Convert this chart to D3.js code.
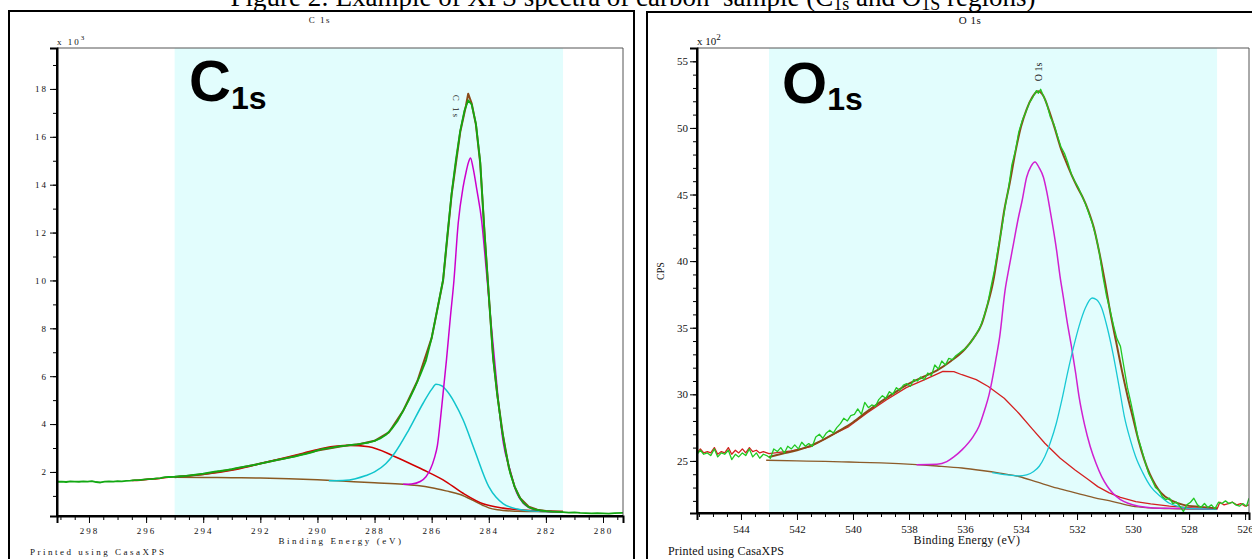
<!DOCTYPE html>
<html>
<head>
<meta charset="utf-8">
<script src="https://cdn.jsdelivr.net/npm/d3@7"></script>
<style>
  html, body { margin: 0; padding: 0; background: #fff; overflow: hidden; }
  svg { display: block; }
</style>
</head>
<body>
<svg id="fig" width="1252" height="559"></svg>
<script>
// ---------- C 1s region (counts in units of 10^3 CPS) ----------
const c1sXTicks = [298, 296, 294, 292, 290, 288, 286, 284, 282, 280];
const c1sYTicks = [2, 4, 6, 8, 10, 12, 14, 16, 18];
const c1sRegion = [295.0, 281.4];

const c1sCounts = [
  [299.1,1.59],[298.95,1.60],[298.8,1.58],[298.65,1.61],[298.5,1.60],[298.35,1.59],[298.2,1.61],
  [298.05,1.60],[297.9,1.62],[297.75,1.58],[297.6,1.56],[297.45,1.60],[297.3,1.61],[297.15,1.60],
  [297.0,1.62],[296.85,1.61],[296.7,1.63],[296.55,1.64],[296.4,1.66],[296.25,1.66],[296.1,1.68],
  [295.95,1.70],[295.8,1.70],[295.65,1.73],[295.5,1.74],[295.35,1.78],[295.2,1.79],[295.0,1.80],
  [294.8,1.82],[294.6,1.84],[294.4,1.87],[294.2,1.90],[294.0,1.93],[293.8,1.97],[293.6,2.01],
  [293.4,2.04],[293.2,2.08],[293.0,2.12],[292.8,2.17],[292.6,2.21],[292.4,2.25],[292.2,2.30],
  [292.0,2.35],[291.8,2.40],[291.6,2.45],[291.4,2.50],[291.2,2.55],[291.0,2.60],[290.8,2.64],
  [290.6,2.70],[290.4,2.76],[290.2,2.82],[290.0,2.90],[289.8,2.96],[289.6,3.00],[289.4,3.04],
  [289.2,3.08],[289.0,3.10],[288.8,3.13],[288.6,3.15],[288.4,3.19],[288.2,3.23],[288.0,3.30],
  [287.8,3.40],[287.6,3.55],[287.4,3.80],[287.2,4.12],[287.0,4.55],[286.8,5.00],[286.6,5.50],
  [286.4,6.05],[286.2,6.65],[286.0,7.60],[285.8,8.80],[285.6,10.03],[285.45,11.90],[285.3,13.65],
  [285.15,15.05],[285.0,16.25],[284.85,17.10],[284.72,17.52],[284.6,17.35],[284.45,16.55],
  [284.3,14.95],[284.15,12.00],[284.0,9.40],[283.85,6.80],[283.7,5.20],[283.55,3.85],[283.4,2.80],
  [283.25,1.95],[283.1,1.40],[282.95,1.00],[282.8,0.72],[282.6,0.52],[282.4,0.44],[282.2,0.39],
  [282.0,0.36],[281.8,0.34],[281.6,0.33],[281.4,0.32],[281.2,0.30],[281.0,0.31],[280.8,0.29],
  [280.6,0.28],[280.4,0.27],[280.2,0.28],[280.0,0.27],[279.8,0.26],[279.6,0.28],[279.3,0.29]
];
const c1sEnvelope = [
  [295.0,1.78],[294,1.90],[293,2.10],[292,2.35],[291,2.60],[290,2.90],[289,3.10],[288.5,3.17],
  [288,3.30],[287.5,3.65],[287,4.55],[286.5,5.80],[286,7.60],[285.6,10.0],[285.3,13.6],[285,16.2],
  [284.8,17.3],[284.72,17.8],[284.6,17.4],[284.45,16.5],[284.3,14.9],[284.15,12.0],[284,9.4],
  [283.85,6.8],[283.7,5.2],[283.5,3.5],[283.3,2.2],[283.1,1.4],[282.9,0.9],[282.6,0.55],
  [282.3,0.42],[282,0.37],[281.4,0.34]
];
const c1sBackground = [
  [295.0,1.78],[294,1.77],[293,1.76],[292,1.75],[291,1.72],[290,1.67],[289,1.61],[288,1.55],
  [287,1.49],[286.5,1.43],[286,1.34],[285.5,1.21],[285,1.06],[284.5,0.78],[284.2,0.60],[284,0.50],
  [283.7,0.42],[283.5,0.39],[283,0.36],[282.5,0.35],[282,0.34],[281.4,0.34]
];
const c1sPeakBroad = [
  [296.5,1.64],[296.2,1.66],[295.9,1.70],[295.6,1.72],[295.3,1.77],[295.0,1.80],[294.1,1.88],
  [292.9,2.09],[291.7,2.44],[290.5,2.78],[289.8,2.99],[288.9,3.11],[288.2,3.05],[287.3,2.65],
  [286.3,2.09],[285.6,1.67],[284.9,1.11],[284.2,0.67],[283.5,0.49],[282.8,0.41],[282.0,0.36],
  [281.4,0.35]
];
const c1sPeakMid = [
  [289.6,1.63],[289.0,1.65],[288.7,1.71],[288.3,1.85],[288.0,2.00],[287.6,2.35],[287.3,2.78],
  [286.8,3.76],[286.3,4.87],[286.0,5.45],[285.85,5.66],[285.65,5.60],[285.5,5.43],[285.2,4.90],
  [284.9,4.18],[284.5,2.92],[284.0,1.39],[283.75,0.95],[283.5,0.68],[283.0,0.45],[282.6,0.38],
  [282.0,0.35],[281.4,0.34]
];
const c1sPeakMain = [
  [287.0,1.49],[286.7,1.50],[286.4,1.60],[286.2,1.80],[286.05,2.10],[285.9,2.60],[285.8,3.10],
  [285.65,4.70],[285.48,6.70],[285.35,8.40],[285.22,10.0],[285.07,12.4],[284.9,13.9],[284.8,14.5],
  [284.72,14.9],[284.64,15.12],[284.55,14.7],[284.42,13.8],[284.25,12.5],[284.1,10.6],[283.95,8.6],
  [283.8,6.7],[283.65,4.8],[283.49,3.2],[283.26,2.1],[283.02,1.12],[282.8,0.70],[282.6,0.52],
  [282.3,0.40],[282.0,0.36],[281.4,0.34]
];

// ---------- O 1s region (counts in units of 10^2 CPS) ----------
const o1sXTicks = [544, 542, 540, 538, 536, 534, 532, 530, 528, 526];
const o1sYTicks = [25, 30, 35, 40, 45, 50, 55];
const o1sRegion = [543.0, 527.0];

const o1sCounts = [
  [545.57,25.5],[545.45,25.8],[545.33,25.5],[545.2,25.6],[545.08,25.4],[544.95,25.9],[544.83,25.3],
  [544.7,25.6],[544.58,25.5],[544.45,25.8],[544.33,25.1],[544.2,25.5],[544.08,25.3],[543.95,25.6],
  [543.83,25.4],[543.7,25.9],[543.58,25.3],[543.45,25.6],[543.33,25.2],[543.2,25.5],[543.08,25.4],
  [542.95,25.2],[542.83,25.9],[542.7,25.7],[542.58,26.0],[542.45,25.6],[542.33,26.1],[542.2,25.9],
  [542.08,26.2],[541.95,25.9],[541.83,26.4],[541.7,26.1],[541.58,26.3],[541.45,26.1],[541.33,26.8],
  [541.2,27.0],[541.08,26.7],[540.95,27.1],[540.83,27.3],[540.7,27.1],[540.58,27.5],[540.45,27.8],
  [540.33,28.2],[540.2,28.0],[540.08,28.4],[539.95,28.5],[539.83,28.9],[539.7,28.5],[539.58,29.4],
  [539.45,29.0],[539.33,29.2],[539.2,29.1],[539.08,29.6],[538.95,29.9],[538.83,29.7],[538.7,30.2],
  [538.58,30.0],[538.45,30.5],[538.33,30.3],[538.2,30.7],[538.08,30.8],[537.95,30.6],[537.83,31.1],
  [537.7,31.0],[537.58,31.3],[537.45,31.1],[537.33,31.6],[537.2,31.4],[537.08,32.2],[536.95,31.9],
  [536.83,32.5],[536.7,32.2],[536.58,32.7],[536.45,32.6],[536.33,32.9],[536.2,33.1],[536.08,33.3],
  [535.95,33.5],[535.83,33.8],[535.7,34.2],[535.58,34.6],[535.45,35.1],[535.33,35.8],[535.2,36.7],
  [535.08,38.0],[534.95,39.3],[534.83,40.8],[534.7,42.3],[534.57,44.1],[534.45,45.4],[534.33,47.2],
  [534.2,48.3],[534.08,49.7],[533.95,50.6],[533.83,51.2],[533.7,51.9],[533.58,52.3],[533.45,52.8],
  [533.38,52.6],[533.3,52.9],[533.2,52.4],[533.08,51.8],[532.95,50.8],[532.83,50.3],[532.7,49.4],
  [532.58,48.6],[532.45,48.1],[532.33,47.4],[532.2,46.5],[532.08,46.0],[531.95,45.5],[531.83,44.9],
  [531.7,44.3],[531.58,43.6],[531.45,42.8],[531.33,41.9],[531.2,40.6],[531.08,38.9],[530.95,37.4],
  [530.83,36.4],[530.7,35.2],[530.58,34.2],[530.45,33.6],[530.33,32.1],[530.2,30.5],[530.08,29.4],
  [529.95,28.1],[529.83,26.8],[529.7,25.9],[529.58,25.0],[529.45,24.1],[529.33,23.6],[529.2,23.0],
  [529.08,22.8],[528.95,22.3],[528.83,22.1],[528.7,22.2],[528.58,21.8],[528.45,21.9],[528.33,21.6],
  [528.2,21.2],[528.08,21.7],[527.95,21.9],[527.83,22.2],[527.7,21.7],[527.58,21.5],[527.45,21.8],
  [527.33,21.5],[527.2,21.7],[527.08,21.4],[526.95,21.9],[526.83,21.8],[526.7,22.0],[526.58,21.8],
  [526.45,21.9],[526.33,21.7],[526.2,21.6],[526.08,21.8],[525.95,21.6],[525.86,22.2]
];
const o1sEnvelope = [
  [543.0,25.3],[542.5,25.55],[542,25.8],[541.5,26.15],[541,26.65],[540.5,27.25],[540,27.9],
  [539.5,28.7],[539,29.45],[538.5,30.15],[538,30.8],[537.5,31.3],[537,31.8],[536.5,32.5],
  [536,33.4],[535.7,34.2],[535.4,35.3],[535.2,36.7],[535,38.4],[534.8,41.0],[534.6,43.8],
  [534.4,45.9],[534.2,48.2],[534,50.1],[533.8,51.4],[533.6,52.3],[533.4,52.75],[533.2,52.4],
  [533,51.3],[532.8,50.0],[532.6,48.6],[532.4,47.5],[532.2,46.5],[532,45.6],[531.8,44.8],
  [531.6,43.8],[531.4,42.5],[531.2,40.6],[531,38.4],[530.8,36.0],[530.6,33.9],[530.4,31.8],
  [530.2,29.9],[530,28.2],[529.8,26.5],[529.6,25.1],[529.4,24.0],[529.2,23.2],[529,22.6],
  [528.6,22.0],[528.2,21.7],[527.6,21.55],[527,21.45]
];
const o1sBackground = [
  [543.1,25.05],[542,25.0],[541,24.97],[540.15,24.92],[539,24.85],[537.73,24.72],[537,24.62],
  [536.11,24.47],[535.4,24.28],[534.76,24.08],[534.08,23.83],[533.41,23.4],[532.7,22.95],
  [532.06,22.6],[531.4,22.25],[530.72,21.95],[530.04,21.6],[529.4,21.47],[528.7,21.42],[527.0,21.37]
];
const o1sPeakBroad = [
  [545.57,25.6],[545.45,25.9],[545.33,25.6],[545.2,25.7],[545.08,25.6],[544.95,26.0],[544.83,25.5],
  [544.7,25.7],[544.58,25.6],[544.45,26.0],[544.33,25.5],[544.2,25.8],[544.08,25.6],[543.95,25.9],
  [543.83,25.6],[543.7,26.0],[543.58,25.7],[543.45,25.8],[543.33,25.6],[543.2,25.7],[543.0,25.55],
  [542.2,25.75],[541.5,26.08],[540.8,26.9],[540.15,27.58],[539.5,28.6],[538.8,29.59],[538.1,30.5],
  [537.46,31.09],[536.79,31.72],[536.4,31.7],[536.11,31.47],[535.6,31.1],[535.17,30.59],[534.6,29.7],
  [534.08,28.58],[533.6,27.4],[533.15,26.33],[532.6,25.2],[532.07,24.32],[531.6,23.6],[531.26,23.07],
  [530.85,22.6],[530.45,22.27],[529.9,21.95],[529.37,21.77],[528.7,21.6],[528.02,21.49],[527.5,21.42],
  [527.0,21.39],[526.9,21.9],[526.75,21.7],[526.6,21.8],[526.45,21.9],[526.3,21.7],[526.15,21.8],
  [526.0,21.6],[525.86,21.7]
];
const o1sPeakMain = [
  [537.73,24.72],[537.0,24.75],[536.65,24.95],[536.4,25.3],[536.11,25.83],[535.71,26.83],[535.5,27.6],
  [535.3,28.83],[535.15,29.9],[535.03,31.09],[534.9,32.6],[534.76,34.35],[534.57,37.8],[534.42,39.6],
  [534.27,41.3],[534.1,43.2],[533.96,44.55],[533.8,46.3],[533.65,47.1],[533.5,47.45],[533.35,47.0],
  [533.2,46.3],[533.08,45.2],[532.96,43.8],[532.84,42.3],[532.73,40.8],[532.61,38.9],[532.49,37.3],
  [532.35,35.4],[532.2,33.6],[532.05,31.6],[531.93,29.84],[531.73,27.7],[531.53,26.08],[531.32,24.8],
  [531.12,23.82],[530.92,23.1],[530.72,22.57],[530.45,22.1],[530.18,21.82],[529.8,21.6],[529.37,21.49],
  [528.7,21.44],[528.02,21.42],[527.0,21.39]
];
const o1sPeakLow = [
  [535.03,24.12],[534.5,23.95],[534.08,23.87],[533.8,23.95],[533.55,24.2],[533.35,24.6],[533.15,25.33],
  [532.95,26.4],[532.74,27.83],[532.54,29.6],[532.34,31.59],[532.13,33.5],[531.93,35.1],[531.7,36.5],
  [531.46,37.23],[531.3,37.1],[531.12,36.48],[530.92,35.0],[530.72,33.1],[530.5,30.6],[530.31,28.33],
  [530.1,26.6],[529.91,25.33],[529.65,24.1],[529.37,23.07],[529.0,22.3],[528.7,21.82],[528.4,21.6],
  [528.02,21.44],[527.5,21.4],[527.0,21.38]
];

// ---------- drawing ----------
const svg = d3.select('#fig');
const serif = '"Liberation Serif", "Times New Roman", serif';
const sans = '"Liberation Sans", Arial, sans-serif';

// figure caption, partly above the top edge
const cap = svg.append('text')
  .attr('x', 633).attr('y', 6)
  .attr('text-anchor', 'middle')
  .style('font-family', serif).style('font-size', '27px')
  .style('white-space', 'pre').attr('fill', '#000');
cap.append('tspan').text('Figure 2: Example of XPS spectra of carbon  sample (C');
cap.append('tspan').attr('dy', 4).style('font-size', '18px').text('1s');
cap.append('tspan').attr('dy', -4).text(' and O');
cap.append('tspan').attr('dy', 4).style('font-size', '18px').text('1S');
cap.append('tspan').attr('dy', -4).text(' regions)');

function panel(cfg) {
  const g = svg.append('g');
  // outer frame
  g.append('rect')
    .attr('x', cfg.frame[0]).attr('y', cfg.frame[1])
    .attr('width', cfg.frame[2]).attr('height', cfg.frame[3])
    .attr('fill', 'none').attr('stroke', '#000').attr('stroke-width', 2);

  const [L, T, R, B] = cfg.plot;
  const x = d3.scaleLinear().domain(cfg.xDomain).range([L, R]);
  const y = d3.scaleLinear().domain(cfg.yDomain).range([B, T]);

  const clipId = 'clip-' + cfg.id;
  g.append('clipPath').attr('id', clipId)
    .append('rect').attr('x', L).attr('y', T).attr('width', R - L).attr('height', B - T);

  // fitting region shading
  g.append('rect')
    .attr('x', x(cfg.region[0])).attr('y', T)
    .attr('width', x(cfg.region[1]) - x(cfg.region[0])).attr('height', B - T)
    .attr('fill', '#e2fdfd');

  const plot = g.append('g').attr('clip-path', `url(#${clipId})`);
  cfg.series.forEach(s => {
    const line = d3.line()
      .x(d => x(d[0])).y(d => y(d[1]))
      .curve(s.smooth ? d3.curveMonotoneX : d3.curveLinear);
    plot.append('path').datum(s.data)
      .attr('d', line)
      .attr('fill', 'none')
      .attr('stroke', s.color)
      .attr('stroke-width', s.width)
      .attr('stroke-linejoin', 'round');
  });

  // plot box: thin top/right, heavy left/bottom
  g.append('path')
    .attr('d', `M${L},${T}H${R}V${B}`)
    .attr('fill', 'none').attr('stroke', '#555').attr('stroke-width', 1);

  const tick = cfg.tickStyle;
  // minor ticks
  const xMinor = d3.range(Math.ceil(cfg.xDomain[1] * 2) / 2, cfg.xDomain[0], 0.5);
  const yMinor = d3.range(Math.ceil(cfg.yDomain[0]), cfg.yDomain[1], cfg.yMinorStep);
  g.append('g').attr('transform', `translate(0,${B})`)
    .call(d3.axisBottom(x).tickValues(xMinor).tickSize(4).tickFormat(''))
    .call(a => a.select('.domain').remove())
    .call(a => a.selectAll('line').attr('stroke', '#000'));
  g.append('g').attr('transform', `translate(${L},0)`)
    .call(d3.axisLeft(y).tickValues(yMinor).tickSize(4).tickFormat(''))
    .call(a => a.select('.domain').remove())
    .call(a => a.selectAll('line').attr('stroke', '#000'));

  // major ticks with labels
  const xa = g.append('g').attr('transform', `translate(0,${B})`)
    .call(d3.axisBottom(x).tickValues(cfg.xTicks).tickSize(7).tickPadding(tick.xPad).tickFormat(d3.format('d')));
  const ya = g.append('g').attr('transform', `translate(${L},0)`)
    .call(d3.axisLeft(y).tickValues(cfg.yTicks).tickSize(7).tickPadding(tick.yPad).tickFormat(d3.format('d')));
  [xa, ya].forEach(a => {
    a.select('.domain').attr('stroke', '#000').attr('stroke-width', 2);
    a.selectAll('line').attr('stroke', '#000');
    a.selectAll('text')
      .style('font-family', serif).style('font-size', tick.size + 'px')
      .style('letter-spacing', tick.spacing + 'px')
      .attr('fill', '#111');
  });
  // the heavy axis lines
  g.append('path').attr('d', `M${L},${T}V${B}H${R}`)
    .attr('fill', 'none').attr('stroke', '#000').attr('stroke-width', 2);

  const txt = (xp, yp, s, size, anchor, extra) => {
    const t = g.append('text').attr('x', xp).attr('y', yp)
      .attr('text-anchor', anchor || 'start')
      .style('font-family', serif).style('font-size', size + 'px')
      .style('letter-spacing', (extra || 0) + 'px')
      .style('white-space', 'pre')
      .attr('fill', '#111').text(s);
    return t;
  };
  cfg.texts(g, txt, x, y);
  return { x, y };
}

panel({
  id: 'c1s',
  frame: [9, 11, 625, 560],
  plot: [57, 48, 623, 516],
  xDomain: [299.12, 279.3],
  yDomain: [0.16, 19.71],
  yMinorStep: 1,
  region: c1sRegion,
  xTicks: c1sXTicks,
  yTicks: c1sYTicks,
  tickStyle: { size: 9, spacing: 2, xPad: 5, yPad: 2 },
  series: [
    { data: c1sBackground, color: '#8a5a22', width: 1.5, smooth: true },
    { data: c1sPeakBroad, color: '#d00000', width: 1.6, smooth: true },
    { data: c1sPeakMid, color: '#10c4cc', width: 1.5, smooth: true },
    { data: c1sPeakMain, color: '#cc00cc', width: 1.5, smooth: true },
    { data: c1sEnvelope, color: '#8a4a18', width: 2, smooth: false },
    { data: c1sCounts, color: '#12a812', width: 1.8, smooth: false }
  ],
  texts: (g, txt, x, y) => {
    txt(320, 23, 'C 1s', 9, 'middle', 1.5);
    const e = txt(57, 45, 'x 10', 9, 'start', 2);
    e.append('tspan').attr('dy', -5).style('font-size', '7px').text('3');
    txt(341, 544, 'Binding Energy (eV)', 9, 'middle', 2.6);
    txt(30, 555, 'Printed using CasaXPS', 9, 'start', 2.5);
    // peak name written vertically above the C 1s maximum
    g.append('text')
      .attr('transform', `translate(${x(284.73) - 15},${y(17.8) + 1}) rotate(90)`)
      .style('font-family', serif).style('font-size', '9px').style('letter-spacing', '2px')
      .attr('fill', '#222').text('C 1s');
    const big = g.append('text').attr('x', 189).attr('y', 101)
      .style('font-family', sans).style('font-weight', 'bold').style('font-size', '58px')
      .attr('fill', '#000');
    big.append('tspan').text('C');
    big.append('tspan').attr('dy', 8).style('font-size', '32px').text('1s');
  }
});

panel({
  id: 'o1s',
  frame: [647, 12, 620, 560],
  plot: [697, 48, 1249, 513],
  xDomain: [545.57, 525.86],
  yDomain: [21.09, 56.0],
  yMinorStep: 1,
  region: o1sRegion,
  xTicks: o1sXTicks,
  yTicks: o1sYTicks,
  tickStyle: { size: 11, spacing: 0, xPad: 5, yPad: 2 },
  series: [
    { data: o1sBackground, color: '#8c5c2a', width: 1.3, smooth: true },
    { data: o1sPeakBroad, color: '#d42020', width: 1.3, smooth: false },
    { data: o1sPeakMain, color: '#d020d0', width: 1.5, smooth: true },
    { data: o1sPeakLow, color: '#18c8d4', width: 1.3, smooth: true },
    { data: o1sEnvelope, color: '#8a4a18', width: 2, smooth: true },
    { data: o1sCounts, color: '#22c822', width: 1.3, smooth: false }
  ],
  texts: (g, txt, x, y) => {
    txt(970, 24, 'O 1s', 11, 'middle', 0.5);
    const e = txt(697, 45, 'x 10', 11, 'start', 0);
    e.append('tspan').attr('dy', -5).style('font-size', '9px').text('2');
    txt(967, 544, 'Binding Energy (eV)', 12, 'middle', 0.3);
    txt(668, 555, 'Printed using CasaXPS', 12, 'start', 0.2);
    g.append('text')
      .attr('transform', 'translate(664,271) rotate(-90)')
      .attr('text-anchor', 'middle')
      .style('font-family', serif).style('font-size', '10px')
      .attr('fill', '#111').text('CPS');
    g.append('text')
      .attr('transform', `translate(${x(533.4) + 4},${y(52.9) - 8}) rotate(-90)`)
      .style('font-family', serif).style('font-size', '10px')
      .attr('fill', '#222').text('O 1s');
    const big = g.append('text').attr('x', 782).attr('y', 103)
      .style('font-family', sans).style('font-weight', 'bold').style('font-size', '58px')
      .attr('fill', '#000');
    big.append('tspan').text('O');
    big.append('tspan').attr('dy', 7).style('font-size', '32px').text('1s');
  }
});
</script>
</body>
</html>
